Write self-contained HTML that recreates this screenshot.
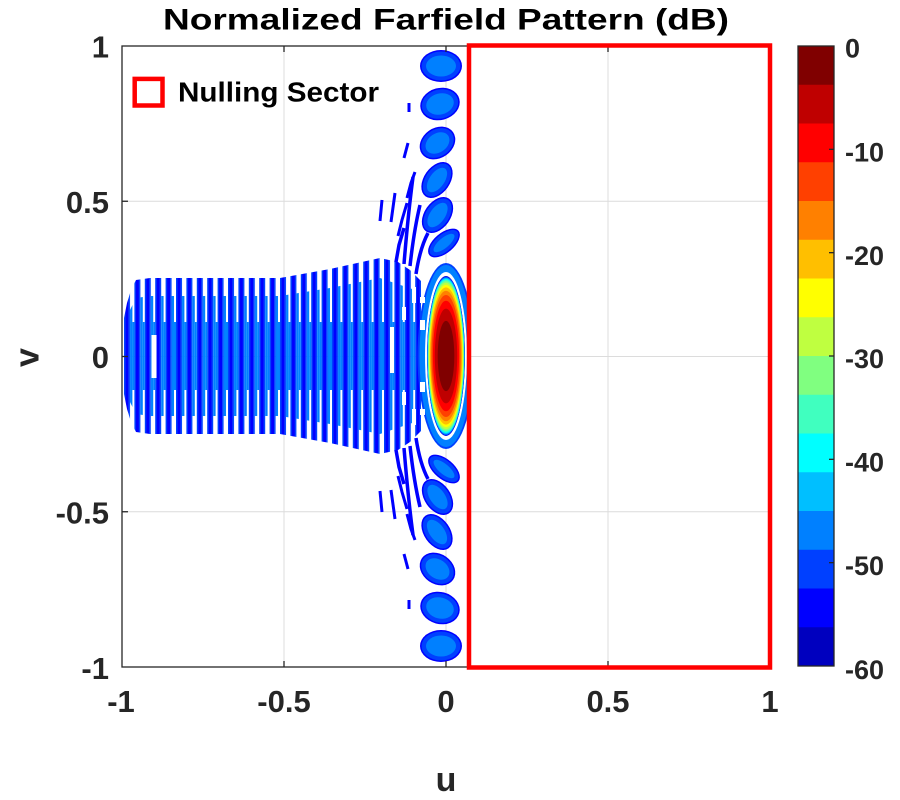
<!DOCTYPE html>
<html><head><meta charset="utf-8"><style>
html,body{margin:0;padding:0;background:#fff;}
svg{display:block;}
text{font-family:"Liberation Sans",Arial,sans-serif;font-weight:bold;fill:#262626;}
</style></head><body>
<svg width="900" height="800" viewBox="0 0 900 800">
<defs>
<clipPath id="cp"><rect x="122" y="46" width="345" height="621"/></clipPath>
<pattern id="pO" patternUnits="userSpaceOnUse" x="124" y="0" width="10.4" height="10">
<rect x="0" y="0" width="1.5" height="10" fill="#0040FF"/>
<rect x="1.5" y="0" width="3" height="10" fill="#0000FF"/>
<rect x="4.5" y="0" width="1.5" height="10" fill="#0040FF"/>
</pattern>
<pattern id="pM" patternUnits="userSpaceOnUse" x="124" y="0" width="10.4" height="10">
<rect x="6" y="0" width="2.4" height="10" fill="#0080FF"/>
</pattern>
<pattern id="pC" patternUnits="userSpaceOnUse" x="124" y="0" width="10.4" height="10">
<rect x="8.4" y="0" width="2" height="10" fill="#0080FF"/>
</pattern>
</defs>

<rect x="0" y="0" width="900" height="800" fill="#fff"/>

<!-- grid -->
<g stroke="#DCDCDC" stroke-width="1">
<line x1="284" y1="46" x2="284" y2="667"/>
<line x1="446" y1="46" x2="446" y2="667"/>
<line x1="608" y1="46" x2="608" y2="667"/>
<line x1="122" y1="201.25" x2="770" y2="201.25"/>
<line x1="122" y1="356.5" x2="770" y2="356.5"/>
<line x1="122" y1="511.75" x2="770" y2="511.75"/>
</g>

<!-- data -->
<g clip-path="url(#cp)">
<polygon fill="url(#pO)" points="124,318 127,303 131,290 136,280 150,278 280,278 330,269 380,258 398,262 410,270 421,281 421,431 410,442 398,450 380,454 330,443 280,434 150,434 136,432 131,422 127,409 124,394"/>
<polygon fill="url(#pM)" points="125,330 129,312 136,298 150,296 280,296 330,288 380,278 421,292 421,420 380,434 330,424 280,416 150,416 136,414 129,400 125,382"/>
<rect x="124" y="322" width="297" height="68" fill="url(#pC)"/>
<g fill="#fff">
<rect x="151.5" y="335" width="5" height="43"/>
<rect x="390" y="327" width="4" height="46"/>
<rect x="402" y="307" width="4" height="13"/>
<rect x="402" y="392" width="4" height="13"/>
<rect x="412" y="287" width="4" height="16"/>
<rect x="412" y="409" width="4" height="16"/>
</g>

<g id="up">
<g fill="none" stroke="#0000FF" stroke-width="3">
<path d="M409,103 L409,112"/>
<path d="M404,158 L408,143"/>
<path d="M407,198 L411,183 L415,172"/>
<path d="M380,221 L382,200"/>
<path d="M391,222 L395,193"/>
<path d="M398,236 L402,220 L407,203"/>
<path d="M396,262 L399,245 L404,228" stroke-width="3.5"/>
<path d="M404,264 Q408,215 413,177" stroke-width="3.5"/>
<path d="M410,266 Q414,230 420,205" stroke-width="3.5"/>
<path d="M416,274 Q420,248 428,233" stroke-width="3.5"/>
</g>
<g transform="translate(441,66)"><ellipse rx="21" ry="16" fill="#0000FF"/><ellipse rx="19.5" ry="14.5" fill="#0040FF"/><ellipse rx="15" ry="10.5" fill="#0080FF"/></g>
<g transform="translate(440,104) rotate(-15)"><ellipse rx="20" ry="16" fill="#0000FF"/><ellipse rx="18.5" ry="14.5" fill="#0040FF"/><ellipse rx="14" ry="10.5" fill="#0080FF"/></g>
<g transform="translate(437.5,143) rotate(-35)"><ellipse rx="19" ry="15" fill="#0000FF"/><ellipse rx="17.5" ry="13.5" fill="#0040FF"/><ellipse rx="13" ry="9.5" fill="#0080FF"/></g>
<g transform="translate(437,180) rotate(-55)"><ellipse rx="20" ry="13" fill="#0000FF"/><ellipse rx="18.5" ry="11.5" fill="#0040FF"/><ellipse rx="14" ry="7.5" fill="#0080FF"/></g>
<g transform="translate(437.5,215) rotate(-55)"><ellipse rx="20" ry="13" fill="#0000FF"/><ellipse rx="18.5" ry="11.5" fill="#0040FF"/><ellipse rx="14" ry="7.5" fill="#0080FF"/></g>
<g transform="translate(444,243) rotate(-40)"><ellipse rx="19" ry="10" fill="#0000FF"/><ellipse rx="17.5" ry="8.5" fill="#0040FF"/><ellipse rx="13" ry="5" fill="#0080FF"/></g>
</g>
<use href="#up" transform="matrix(1 0 0 -1 0 712)"/>

<!-- sidelobe ring around beam -->
<ellipse cx="446" cy="356" rx="28.5" ry="93" fill="#0040FF"/>
<ellipse cx="446" cy="356" rx="26.5" ry="91" fill="#0080FF"/>
<g fill="#fff">
<rect x="420" y="297" width="5" height="6"/>
<rect x="420" y="320" width="5" height="10"/>
<rect x="420" y="382" width="5" height="10"/>
<rect x="420" y="409" width="5" height="6"/>
</g>
<ellipse cx="446" cy="356" rx="21" ry="84" fill="#fff"/>

<!-- main beam -->
<g transform="translate(446,356)">
<ellipse rx="18.93" ry="79.95" fill="#0000BF"/>
<ellipse rx="18.86" ry="79.63" fill="#0000FF"/>
<ellipse rx="18.75" ry="79.18" fill="#0040FF"/>
<ellipse rx="18.62" ry="78.65" fill="#0080FF"/>
<ellipse rx="18.47" ry="78.0" fill="#00BFFF"/>
<ellipse rx="18.26" ry="77.1" fill="#00FFFF"/>
<ellipse rx="18.03" ry="76.12" fill="#40FFBF"/>
<ellipse rx="17.72" ry="74.82" fill="#80FF80"/>
<ellipse rx="17.33" ry="73.19" fill="#BFFF40"/>
<ellipse rx="16.85" ry="71.15" fill="#FFFF00"/>
<ellipse rx="16.25" ry="68.62" fill="#FFBF00"/>
<ellipse rx="15.46" ry="65.28" fill="#FF8000"/>
<ellipse rx="14.46" ry="61.04" fill="#FF4000"/>
<ellipse rx="13.09" ry="55.26" fill="#FF0000"/>
<ellipse rx="11.21" ry="47.35" fill="#BF0000"/>
<ellipse rx="8.32" ry="35.13" fill="#800000"/>
</g>
</g>

<!-- axes box and ticks -->
<rect x="122" y="46" width="648" height="621" fill="none" stroke="#262626" stroke-width="1.3"/>
<g stroke="#262626" stroke-width="1.3">
<line x1="284" y1="667" x2="284" y2="661"/><line x1="446" y1="667" x2="446" y2="661"/><line x1="608" y1="667" x2="608" y2="661"/>
<line x1="284" y1="46" x2="284" y2="52"/><line x1="446" y1="46" x2="446" y2="52"/><line x1="608" y1="46" x2="608" y2="52"/>
<line x1="122" y1="201.25" x2="128" y2="201.25"/><line x1="122" y1="356.5" x2="128" y2="356.5"/><line x1="122" y1="511.75" x2="128" y2="511.75"/>
</g>

<!-- nulling sector -->
<rect x="469" y="45.5" width="301" height="622" fill="none" stroke="#FF0000" stroke-width="4.5"/>

<!-- legend -->
<rect x="134.7" y="78.9" width="27.8" height="26.6" fill="none" stroke="#FF0000" stroke-width="4.5"/>
<text x="178" y="101.7" font-size="28" textLength="201" lengthAdjust="spacingAndGlyphs" style="fill:#000">Nulling Sector</text>

<!-- title -->
<text x="446" y="29.5" font-size="30" text-anchor="middle" textLength="566" lengthAdjust="spacingAndGlyphs" style="fill:#000">Normalized Farfield Pattern (dB)</text>

<!-- y tick labels -->
<g font-size="31" text-anchor="end">
<text x="109" y="57.5">1</text>
<text x="109" y="213">0.5</text>
<text x="109" y="368">0</text>
<text x="109" y="523.5">-0.5</text>
<text x="109" y="679">-1</text>
</g>
<!-- x tick labels -->
<g font-size="31" text-anchor="middle">
<text x="121" y="712">-1</text>
<text x="284" y="712">-0.5</text>
<text x="446" y="712">0</text>
<text x="608" y="712">0.5</text>
<text x="770" y="712">1</text>
</g>
<!-- axis labels -->
<text x="446" y="791" font-size="34" text-anchor="middle">u</text>
<text transform="translate(38.3,357.5) rotate(-90)" font-size="34" text-anchor="middle">v</text>

<!-- colorbar -->
<g>
<rect x="798" y="46" width="36" height="39.1" fill="#800000"/>
<rect x="798" y="84.75" width="36" height="39.1" fill="#BF0000"/>
<rect x="798" y="123.5" width="36" height="39.1" fill="#FF0000"/>
<rect x="798" y="162.25" width="36" height="39.1" fill="#FF4000"/>
<rect x="798" y="201" width="36" height="39.1" fill="#FF8000"/>
<rect x="798" y="239.75" width="36" height="39.1" fill="#FFBF00"/>
<rect x="798" y="278.5" width="36" height="39.1" fill="#FFFF00"/>
<rect x="798" y="317.25" width="36" height="39.1" fill="#BFFF40"/>
<rect x="798" y="356" width="36" height="39.1" fill="#80FF80"/>
<rect x="798" y="394.75" width="36" height="39.1" fill="#40FFBF"/>
<rect x="798" y="433.5" width="36" height="39.1" fill="#00FFFF"/>
<rect x="798" y="472.25" width="36" height="39.1" fill="#00BFFF"/>
<rect x="798" y="511" width="36" height="39.1" fill="#0080FF"/>
<rect x="798" y="549.75" width="36" height="39.1" fill="#0040FF"/>
<rect x="798" y="588.5" width="36" height="39.1" fill="#0000FF"/>
<rect x="798" y="627.25" width="36" height="38.75" fill="#0000BF"/>
</g>
<rect x="798" y="46" width="36" height="620" fill="none" stroke="#262626" stroke-width="1.3"/>
<g stroke="#262626" stroke-width="1.3">
<line x1="829" y1="149.33" x2="834" y2="149.33"/>
<line x1="829" y1="252.67" x2="834" y2="252.67"/>
<line x1="829" y1="356" x2="834" y2="356"/>
<line x1="829" y1="459.33" x2="834" y2="459.33"/>
<line x1="829" y1="562.67" x2="834" y2="562.67"/>
</g>
<g font-size="27" text-anchor="start">
<text x="845" y="57.5">0</text>
<text x="845" y="161.5">-10</text>
<text x="845" y="265">-20</text>
<text x="845" y="368">-30</text>
<text x="845" y="471.5">-40</text>
<text x="845" y="575">-50</text>
<text x="845" y="679">-60</text>
</g>
</svg>
</body></html>
